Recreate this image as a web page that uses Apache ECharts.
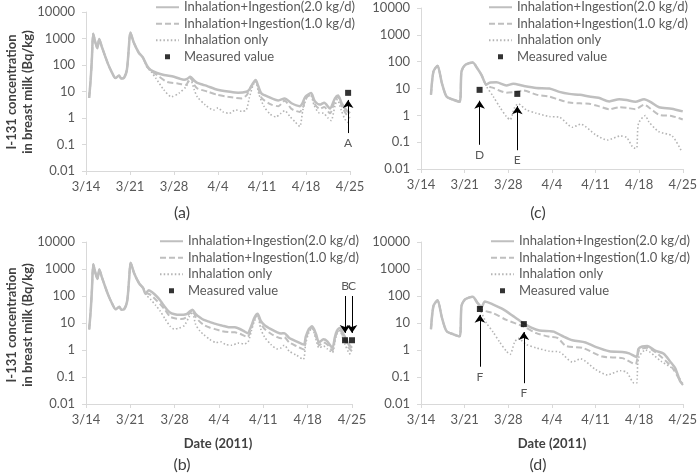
<!DOCTYPE html>
<html>
<head>
<meta charset="utf-8">
<script src="https://cdn.jsdelivr.net/npm/echarts@6/dist/echarts.min.js"></script>
<style>
  html, body { margin: 0; background: #fff; }
  #chart { width: 700px; height: 475px; }
</style>
</head>
<body>
<div id="chart"></div>
<script>
// x = days after 3/14/2011, y = Bq/kg
const dateTicks = ['3/14', '3/21', '3/28', '4/4', '4/11', '4/18', '4/25'];
const yTicks = [0.01, 0.1, 1, 10, 100, 1000, 10000];

// shared early part (all three model lines coincide)
const earlyAB = [[0.5, 5.8], [0.75, 30], [0.95, 200], [1.15, 1500], [1.5, 700], [1.8, 430], [2.1, 950], [2.5, 500],
  [3.0, 230], [3.5, 110], [4.0, 60], [4.7, 32], [5.25, 40], [5.6, 31], [6.0, 32], [6.5, 65], [6.8, 400],
  [7.05, 1700], [7.6, 700], [8.4, 290], [9.0, 200]];
const earlyCD = [[1.6, 5.9], [2.0, 43], [2.65, 70], [3.35, 16], [4.1, 5], [5.2, 3.8], [6.2, 3.2], [6.5, 43],
  [7.1, 76], [8.3, 93], [9.0, 58]];

// panel (a)
const aSolid = [...earlyAB, [9.75, 90], [10.3, 65], [11.3, 50], [12.4, 42], [14.0, 36], [15.0, 30], [15.6, 28],
  [16.1, 30], [16.6, 36], [17.2, 26], [17.7, 21], [18.6, 18], [19.3, 16], [20.5, 12.5], [21.5, 11], [22.6, 10],
  [24.2, 9], [25.5, 9.8], [26.0, 12], [26.6, 21], [27.0, 27], [27.4, 16], [27.9, 8.5], [29.0, 6.3], [30.6, 4.6],
  [31.6, 5.5], [32.7, 3.6], [34.0, 2.8], [34.4, 3.5], [34.9, 6.3], [35.8, 8.7], [36.4, 4.3], [37.2, 3.2],
  [37.9, 3.8], [38.8, 2.3], [39.6, 5.5], [40.1, 7.0], [40.7, 3.5], [41.4, 2.0], [42, 1.5]];
const aDashed = [...earlyAB, [9.75, 85], [10.3, 62], [11.3, 42], [12.9, 23], [14.6, 20], [15.9, 18], [16.6, 34],
  [17.2, 18], [17.7, 13], [19.3, 10], [20.9, 7.5], [22.6, 6.3], [24.8, 5.5], [25.6, 7.5], [26.3, 16], [27.0, 25],
  [27.5, 11], [28.0, 5.5], [29.5, 3.2], [30.6, 2.8], [31.6, 4.5], [32.7, 2.2], [34.0, 1.7], [34.5, 2.5],
  [35.0, 5.5], [35.8, 8.0], [36.4, 3.3], [37.2, 2.2], [37.9, 2.6], [38.8, 1.5], [39.6, 4.5], [40.1, 6.3],
  [40.7, 2.8], [41.4, 1.4], [42, 1.0]];
const aDotted = [...earlyAB, [9.75, 80], [10.4, 55], [11.1, 32], [12.4, 11.5], [13.6, 6.3], [14.8, 8.7],
  [15.9, 15], [16.6, 30], [17.2, 12], [17.7, 6.3], [19.0, 3.1], [20.3, 2.0], [21.0, 2.4], [21.8, 1.7],
  [22.8, 1.5], [23.8, 2.0], [24.8, 1.8], [25.5, 2.0], [26.0, 6], [26.6, 18], [27.0, 24], [27.5, 8], [28.3, 2.8],
  [29.3, 1.4], [30.2, 1.1], [31.0, 1.5], [31.6, 1.9], [32.5, 1.1], [33.3, 0.7], [34.0, 0.48], [34.5, 2.0],
  [35.0, 5.0], [35.7, 7.5], [36.3, 3.0], [37.0, 1.6], [37.8, 1.5], [38.5, 1.0], [39.0, 0.8], [39.6, 2.8],
  [40.0, 5.0], [40.6, 2.0], [41.2, 0.9], [42, 0.6]];
const measA = [[41.7, 8.9]];
const arrowsA = [{ label: 'A', x: 41.7, from: 0.27, to: 4.8 }];

// panel (b)
const bSolid = [...earlyAB, [9.4, 120], [9.9, 165], [10.4, 140], [11.1, 100], [11.7, 70], [12.2, 47], [13.2, 25],
  [14.0, 21], [14.8, 20], [15.8, 21], [16.4, 27], [16.8, 31], [17.3, 22], [18.0, 16], [18.6, 13], [19.5, 11],
  [20.3, 9.5], [21.5, 8], [22.5, 7], [23.5, 6.9], [24.3, 6.0], [24.8, 5.2], [25.5, 4.2], [26.1, 7.8], [26.6, 16],
  [27.1, 22], [27.6, 12], [28.2, 8.3], [29.2, 5.9], [30.2, 4.5], [30.8, 4.1], [31.3, 4.2], [32.1, 2.8],
  [33.2, 2.1], [34.4, 1.6], [34.7, 3.1], [35.2, 6], [35.7, 7.5], [36.3, 4.0], [36.8, 1.9], [37.5, 2.5],
  [38.1, 2.1], [38.9, 1.2], [39.3, 3], [39.6, 5], [40.1, 6.5], [40.5, 4.5], [40.9, 3.0], [41.5, 1.6], [42, 1.2]];
const bDashed = [...earlyAB, [9.6, 130], [10.2, 110], [11.1, 70], [11.7, 50], [12.5, 30], [13.3, 17], [14.0, 15],
  [15.0, 14], [15.8, 16], [16.4, 24], [16.8, 29], [17.3, 17], [18.0, 11], [18.6, 8.5], [19.5, 6.8], [20.5, 5.8],
  [21.5, 5.0], [22.5, 4.6], [23.5, 4.5], [24.3, 4.0], [25.5, 3.0], [26.1, 6.5], [26.6, 14], [27.1, 20],
  [27.6, 9.5], [28.2, 6], [29.2, 4.0], [30.2, 3.0], [30.8, 2.7], [31.3, 3.0], [32.1, 1.9], [33.2, 1.4],
  [34.4, 1.05], [34.7, 2.5], [35.2, 5.2], [35.7, 6.8], [36.3, 3.2], [36.8, 1.5], [37.5, 1.9], [38.1, 1.6],
  [38.9, 0.95], [39.3, 2.5], [39.6, 4.3], [40.1, 5.8], [40.5, 3.6], [40.9, 2.2], [41.5, 1.2], [42, 0.9]];
const bDotted = [...earlyAB, [9.5, 110], [10.2, 75], [11.0, 45], [11.7, 28], [12.5, 14], [13.3, 7.5], [13.9, 6.0],
  [14.7, 6.5], [15.5, 8], [16.3, 17], [16.8, 26], [17.3, 9], [18.0, 5], [18.6, 3.7], [19.5, 2.5], [20.5, 1.9],
  [21.3, 2.0], [22.0, 1.6], [23.0, 1.5], [24.0, 1.8], [25.0, 1.7], [25.6, 2.0], [26.1, 5], [26.6, 12], [27.1, 18],
  [27.6, 6], [28.2, 3], [29.2, 1.6], [30.2, 1.1], [30.8, 1.2], [31.3, 1.5], [32.1, 0.9], [33.2, 0.65],
  [34.3, 0.45], [34.7, 1.8], [35.2, 4.5], [35.7, 6.5], [36.3, 2.5], [36.8, 1.2], [37.5, 1.4], [38.1, 1.1],
  [38.9, 0.8], [39.3, 2], [39.6, 3.8], [40.1, 5.2], [40.5, 3], [40.9, 1.6], [41.5, 0.8], [42, 0.6]];
const measB = [[40.9, 2.3], [42.0, 2.3]];
const arrowsB = [{ label: 'B', x: 40.9, from: 100, to: 4.3 }, { label: 'C', x: 42.0, from: 100, to: 4.3 }];

// panel (c)
const cSolid = [...earlyCD, [9.7, 32], [10.5, 14], [11.0, 16.5], [12.1, 17], [13.7, 13], [14.8, 15], [16.4, 12.6],
  [18.5, 10.5], [20.6, 10], [22.2, 7.5], [23.8, 6.3], [25.5, 5.8], [27.0, 5.0], [28.5, 4.5], [30.2, 3.3],
  [31.8, 4.0], [33.0, 3.7], [34.4, 3.2], [35.8, 4.0], [36.8, 3.2], [38.2, 2.0], [40.2, 1.75], [42, 1.4]];
const cDashed = [...earlyCD, [9.7, 32], [10.5, 13], [11.6, 10.5], [13.7, 7.0], [15.3, 7.6], [16.4, 8.5],
  [18.5, 5.9], [20.6, 5.0], [22.2, 3.8], [23.8, 3.0], [25.5, 2.8], [27.0, 2.7], [28.5, 2.2], [30.2, 1.7],
  [31.8, 2.0], [33.0, 1.9], [34.4, 1.7], [35.8, 2.5], [36.8, 1.8], [38.2, 1.05], [40.2, 0.95], [42, 0.7]];
const cDotted = [...earlyCD, [9.7, 32], [10.5, 12], [11.6, 5], [12.6, 2.1], [13.7, 0.9], [14.3, 0.69],
  [15.0, 1.9], [15.6, 2.7], [16.9, 1.6], [18.5, 1.2], [20.6, 0.9], [22.2, 0.85], [24.3, 0.36], [25.6, 0.47],
  [28.0, 0.19], [29.9, 0.12], [32.0, 0.17], [33.0, 0.15], [34.2, 0.06], [34.6, 0.06], [34.9, 0.5], [36.0, 0.98],
  [36.5, 0.6], [38.1, 0.25], [40.3, 0.17], [41.8, 0.046]];
const measC = [[9.4, 8.9], [15.45, 6.3]];
const arrowsC = [{ label: 'D', x: 9.4, from: 0.08, to: 3.5 }, { label: 'E', x: 15.45, from: 0.05, to: 2.2 }];

// panel (d)
const dSolid = [...earlyCD, [9.4, 45], [9.7, 38], [10.25, 63], [11.6, 48], [13.2, 32], [14.8, 18], [16.4, 10],
  [17.7, 6.8], [19.0, 5.3], [20.6, 5.0], [21.3, 4.8], [22.7, 3.3], [24.3, 2.3], [26.4, 1.9], [28.0, 1.3],
  [30.2, 0.9], [32.3, 0.85], [33.4, 0.75], [34.6, 0.55], [34.9, 1.1], [35.5, 1.35], [36.3, 1.4], [37.6, 0.94],
  [38.9, 0.74], [40.0, 0.37], [40.8, 0.21], [41.6, 0.068], [42, 0.055]];
const dDashed = [...earlyCD, [9.45, 33], [11.6, 23], [13.7, 13], [16.4, 7.5], [18.5, 4.2], [20.6, 3.1],
  [21.9, 2.8], [23.3, 1.4], [25.9, 1.2], [29.1, 0.57], [32.3, 0.5], [34.4, 0.3], [35.0, 1.0], [36.3, 1.2],
  [38.2, 0.65], [40.3, 0.22], [42, 0.05]];
const dDotted = [...earlyCD, [9.45, 33], [10.5, 10], [11.6, 4.5], [12.6, 2.0], [13.7, 0.9], [14.3, 0.69],
  [15.0, 1.9], [15.6, 2.7], [16.9, 1.6], [18.5, 1.2], [20.6, 0.9], [22.2, 0.85], [24.3, 0.36], [25.6, 0.47],
  [28.0, 0.19], [29.9, 0.12], [32.0, 0.17], [33.0, 0.15], [34.2, 0.06], [34.6, 0.06], [34.9, 0.5], [36.0, 1.0],
  [38.6, 0.37], [40.7, 0.18], [42, 0.05]];
const measD = [[9.45, 33], [16.5, 9.1]];
const arrowsD = [{ label: 'F', x: 9.45, from: 0.24, to: 20 }, { label: 'F', x: 16.5, from: 0.059, to: 4.6 }];

const NAME_HI = 'Inhalation+Ingestion(2.0 kg/d)';
const NAME_LO = 'Inhalation+Ingestion(1.0 kg/d)';
const NAME_INH = 'Inhalation only';
const NAME_MEAS = 'Measured value';

const FONT = 'Lato';
const GREY = '#bfbfbf';
const TXT = '#595959';

const panels = [
  { grid: { left: 86, top: 12, width: 264, height: 159 }, solid: aSolid, dashed: aDashed, dotted: aDotted,
    meas: measA, arrows: arrowsA, legend: { left: 155, top: -1 } },
  { grid: { left: 421, top: 8, width: 263, height: 161 }, solid: cSolid, dashed: cDashed, dotted: cDotted,
    meas: measC, arrows: arrowsC, legend: { left: 488, top: -1 } },
  { grid: { left: 86, top: 242, width: 266, height: 162 }, solid: bSolid, dashed: bDashed, dotted: bDotted,
    meas: measB, arrows: arrowsB, legend: { left: 159, top: 233 } },
  { grid: { left: 421, top: 242, width: 263, height: 162 }, solid: dSolid, dashed: dDashed, dotted: dDotted,
    meas: measD, arrows: arrowsD, legend: { left: 490, top: 233 } }
];

const chart = echarts.init(document.getElementById('chart'), null, { renderer: 'canvas' });

const grids = [], xAxes = [], yAxes = [], legends = [], series = [];
panels.forEach((p, i) => {
  grids.push(p.grid);
  xAxes.push({
    type: 'value', gridIndex: i, min: 0, max: 42, interval: 7,
    axisLine: { lineStyle: { color: '#d9d9d9' } },
    axisTick: { show: true, length: 4, lineStyle: { color: '#d9d9d9' } },
    splitLine: { show: false },
    axisLabel: { fontFamily: FONT, fontSize: 13, color: TXT, margin: 9,
      formatter: v => dateTicks[Math.round(v / 7)] }
  });
  yAxes.push({
    type: 'log', gridIndex: i, min: yTicks[0], max: yTicks[yTicks.length - 1], logBase: 10,
    axisLine: { show: true, lineStyle: { color: '#d9d9d9' } },
    axisTick: { show: true, length: 4, lineStyle: { color: '#d9d9d9' } },
    splitLine: { show: false },
    axisLabel: { fontFamily: FONT, fontSize: 13, color: TXT, margin: 11,
      formatter: v => String(Number(v.toPrecision(1))) }
  });
  legends.push({
    left: p.legend.left, top: p.legend.top, orient: 'vertical', padding: 0,
    itemWidth: 23, itemHeight: 5, itemGap: 0, symbolKeepAspect: true,
    textStyle: { fontFamily: FONT, fontSize: 13, color: TXT, lineHeight: 16.5 },
    data: [NAME_HI, NAME_LO, NAME_INH, { name: NAME_MEAS, icon: 'path://M0,0h10v10h-10z' }]
  });
  const common = { type: 'line', xAxisIndex: i, yAxisIndex: i, showSymbol: false, symbol: 'none',
    animation: false, smooth: 0.25, itemStyle: { color: 'rgba(0,0,0,0)' } };
  series.push(Object.assign({}, common, { name: NAME_INH, data: p.dotted, z: 2,
    lineStyle: { color: '#b4b4b4', width: 1.6, type: [1.5, 2.2] } }));
  series.push(Object.assign({}, common, { name: NAME_LO, data: p.dashed, z: 3,
    lineStyle: { color: GREY, width: 2, type: [6, 3] } }));
  series.push(Object.assign({}, common, { name: NAME_HI, data: p.solid, z: 4,
    lineStyle: { color: GREY, width: 2.5 } }));
  series.push({
    type: 'scatter', name: NAME_MEAS, xAxisIndex: i, yAxisIndex: i, data: p.meas, z: 6,
    symbol: 'rect', symbolSize: 6, itemStyle: { color: '#000' }, animation: false,
    markLine: {
      silent: true, animation: false,
      symbol: ['none', 'arrow'], symbolSize: 8,
      itemStyle: { color: '#000' },
      lineStyle: { color: '#000', width: 1, type: 'solid' },
      label: { show: true, position: 'start', formatter: '{b}', fontFamily: FONT, fontSize: 12,
        color: TXT, distance: 4 },
      data: p.arrows.map(a => [
        { name: a.label, coord: [a.x, a.from] },
        { coord: [a.x, a.to] }
      ])
    }
  });
});

const txt = (x, y, text, extra) => ({
  type: 'text', x, y, silent: true,
  style: Object.assign({ text, fontFamily: FONT, fontSize: 16, fill: '#404040',
    align: 'center', verticalAlign: 'middle' }, extra || {})
});

const yTitle = 'I-131 concentration\nin breast milk (Bq/kg)';
const graphic = [
  txt(182, 213, '(a)'), txt(538, 213, '(c)'), txt(182, 465, '(b)'), txt(538, 465, '(d)'),
  txt(218, 444, 'Date (2011)', { fontSize: 13, fontWeight: 'bold' }),
  txt(552, 444, 'Date (2011)', { fontSize: 13, fontWeight: 'bold' }),
  Object.assign(txt(20, 92, yTitle, { fontSize: 13, fontWeight: 'bold', lineHeight: 16 }), { rotation: Math.PI / 2 }),
  Object.assign(txt(20, 325, yTitle, { fontSize: 13, fontWeight: 'bold', lineHeight: 16 }), { rotation: Math.PI / 2 })
];

const option = {
  animation: false,
  backgroundColor: '#fff',
  grid: grids,
  xAxis: xAxes,
  yAxis: yAxes,
  legend: legends,
  series: series,
  graphic: graphic
};

chart.setOption(option);
</script>
</body>
</html>
